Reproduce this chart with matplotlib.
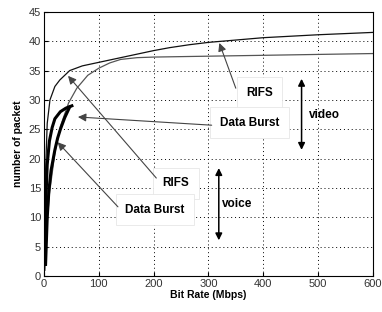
import matplotlib
matplotlib.use('Agg')
import matplotlib.pyplot as plt
import numpy as np

plt.rcParams['font.family'] = ['Liberation Sans', 'DejaVu Sans']

# video, RIFS (upper curve at high bit rates)
video_rifs_x = [1, 3, 6, 11, 20, 29, 47, 70, 100, 135, 170, 200, 229, 265, 300, 350, 400, 500, 600]
video_rifs_y = [2, 18, 26, 30, 32.3, 33.4, 35, 35.8, 36.4, 37.1, 37.8, 38.4, 38.9, 39.4, 39.8, 40.2, 40.6, 41.1, 41.5]

# video, Data Burst (flattens near 37.5)
video_db_x = [2, 5, 10, 20, 30, 45, 60, 80, 100, 120, 140, 170, 200, 265, 400, 600]
video_db_y = [1, 8, 14, 21, 25.5, 29.5, 32, 34.2, 35.4, 36.3, 36.9, 37.2, 37.3, 37.4, 37.6, 37.9]

# voice curves
voice_rifs_x = [2, 4, 6, 10, 15, 20, 30, 40, 51]
voice_rifs_y = [2, 14, 19, 23, 25.3, 26.8, 28.0, 28.6, 29.0]
voice_db_x = [3, 6, 9, 13, 20, 25, 30, 38, 47]
voice_db_y = [2, 10, 14.5, 18, 21.5, 23.5, 25.0, 27.0, 28.8]

fig = plt.figure(figsize=(3.82, 3.12), dpi=100)
ax = fig.add_axes([0.115, 0.115, 0.861, 0.847])

ax.plot(video_rifs_x, video_rifs_y, color='#111111', lw=0.9)
ax.plot(video_db_x, video_db_y, color='#555555', lw=0.9)
ax.plot(voice_rifs_x, voice_rifs_y, color='black', lw=2.2)
ax.plot(voice_db_x, voice_db_y, color='black', lw=2.2)

ax.set_xlim(0, 600)
ax.set_ylim(0, 45)
ax.set_xticks(range(0, 601, 100))
ax.set_yticks(range(0, 46, 5))
ax.grid(True, color='black', linestyle=(0, (1, 3)), linewidth=0.7)
ax.tick_params(direction='in', length=3, labelsize=8, labelcolor='#333333', pad=2)
for s in ax.spines.values():
    s.set_linewidth(0.8)

ax.set_xlabel('Bit Rate (Mbps)', fontsize=7.5, fontweight='bold', labelpad=1)
ax.set_ylabel('number of packet', fontsize=7.5, fontweight='bold', labelpad=4)

box = dict(facecolor='white', edgecolor='#e6e6e6', boxstyle='square,pad=0.8', lw=0.6)
tfont = dict(fontsize=8.5, fontweight='bold', ha='center', va='center')
arrow = dict(arrowstyle='-|>', color='#444444', lw=0.8, mutation_scale=12, shrinkA=0, shrinkB=0)
darrow = dict(arrowstyle='<|-|>', color='black', lw=1.1, mutation_scale=10, shrinkA=0, shrinkB=0)

# video annotations
ax.text(393, 31.2, 'RIFS', bbox=box, **tfont)
ax.annotate('', xy=(320, 39.7), xytext=(350, 32.0), arrowprops=arrow)
ax.text(375, 26.1, 'Data Burst', bbox=box, **tfont)
ax.annotate('', xy=(62, 27.1), xytext=(306, 25.7), arrowprops=arrow)
ax.annotate('', xy=(470, 33.6), xytext=(470, 21.5), arrowprops=darrow)
ax.text(511, 27.4, 'video', fontsize=8.5, fontweight='bold', ha='center', va='center')

# voice annotations
ax.text(241, 15.8, 'RIFS', bbox=box, **tfont)
ax.annotate('', xy=(44, 34.1), xytext=(205, 16.7), arrowprops=arrow)
ax.text(202, 11.3, 'Data Burst', bbox=box, **tfont)
ax.annotate('', xy=(25, 22.8), xytext=(135, 11.8), arrowprops=arrow)
ax.annotate('', xy=(319, 18.4), xytext=(319, 6.1), arrowprops=darrow)
ax.text(353, 12.3, 'voice', fontsize=8.5, fontweight='bold', ha='center', va='center')

fig.savefig('out.png', dpi=100)
